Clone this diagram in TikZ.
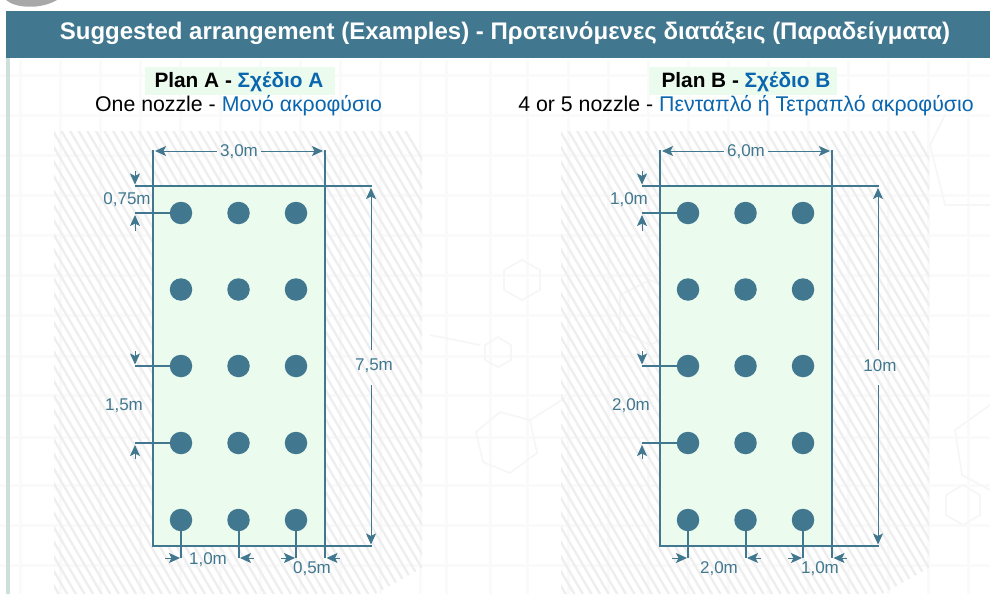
\documentclass[tikz,border=0pt]{standalone}
\usepackage{fontspec}
\setmainfont{Liberation Sans}
\usetikzlibrary{arrows.meta}
\definecolor{teal1}{HTML}{41788F}
\definecolor{blue1}{HTML}{0A66AE}
\definecolor{mint}{HTML}{EBFBEE}
\definecolor{hatchc}{HTML}{EEEEEE}
\definecolor{faint}{HTML}{FAFAFB}
\definecolor{faintb}{HTML}{F6F6F7}
\definecolor{stripe}{HTML}{CFE0DC}
\definecolor{blob}{HTML}{A8A8A8}
\tikzset{
  x=1pt,y=-1pt,
  dot/.style={circle,fill=teal1,draw=none,minimum size=22.5pt,inner sep=0pt},
  edge/.style={draw=teal1,line width=2pt},
  arr/.style={draw=teal1,line width=1pt,-{Stealth[length=11pt,width=10pt,inset=2.5pt]}},
  dimlabel/.style={text=teal1,font=\fontsize{17}{19}\selectfont,inner sep=0pt},
  bgline/.style={draw=faint,line width=3pt},
  bgshape/.style={draw=faintb,line width=1.6pt},
  titlebox/.style={fill=teal1,draw=none,inner sep=0pt,minimum width=984pt,minimum height=47pt},
  headbox/.style={fill=mint,draw=none,inner sep=0pt,minimum height=28pt},
  head/.style={font=\fontsize{20.8}{23}\selectfont\bfseries,inner sep=0pt},
  sub/.style={font=\fontsize{21.3}{23}\selectfont,inner sep=0pt}
}
\begin{document}
\begin{tikzpicture}
\useasboundingbox (0,0) rectangle (990,594);
\fill[white] (0,0) rectangle (990,594);
% faint background
\foreach \xx in {446,490,527,568,608,648,688,728,768,808,848,888,928,968,20,60,100,140,180,220,260,300,340,380,420}{
  \draw[bgline] (\xx,60) -- (\xx,594);
}
\foreach \yy in {75,115,155,195,235,275,315,356,395,437,485,525,565}{
  \draw[bgline] (0,\yy) -- (990,\yy);
}
\draw[bgshape] (522,260) -- (540,270) -- (540,290) -- (522,300) -- (504,290) -- (504,270) -- cycle;
\draw[bgshape] (498,337) -- (511,345) -- (511,360) -- (498,367) -- (485,360) -- (485,345) -- cycle;
\draw[bgshape] (500,412) -- (530,420) -- (537,453) -- (510,473) -- (483,462) -- (476,432) -- cycle;
\draw[bgshape] (530,420) -- (565,398);
\draw[bgshape] (430,335) -- (480,345);
\draw[bgshape] (650,280) -- (680,295) -- (680,330) -- (650,345) -- (620,330) -- (620,295) -- cycle;
\draw[bgshape] (945,115) -- (930,145) -- (945,205) -- (990,205);
\draw[bgshape] (990,405) -- (955,430) -- (962,475) -- (990,490);
\draw[bgshape] (963,485) -- (980,495) -- (980,515) -- (963,525) -- (946,515) -- (946,495) -- cycle;
% left stripe and top-left blob
\fill[stripe] (6,58) rectangle (10,594);
\fill[blob] (6,0) .. controls (15,8) and (40,10) .. (57,0) -- cycle;
\node[titlebox,anchor=north west] (title) at (6,11) {};
\node[text=white,inner sep=0pt,font=\fontsize{24}{26}\selectfont\bfseries] (titletext) at (505,33) {Suggested arrangement (Examples) - Προτεινόμενες διατάξεις (Παραδείγματα)};
% headers
\node[headbox,minimum width=190pt] (hA) at (240,81) {};
\node[head] (hAt) at (239,82) {Plan A - \textcolor{blue1}{Σχέδιο A}};
\node[sub] (sA) at (238.5,106) {One nozzle - \textcolor{blue1}{Μονό ακροφύσιο}};
\node[headbox,minimum width=188pt] (hB) at (743,81) {};
\node[head] (hBt) at (746,82) {Plan B - \textcolor{blue1}{Σχέδιο B}};
\node[sub] (sB) at (746,106) {4 or 5 nozzle - \textcolor{blue1}{Πενταπλό ή Τετραπλό ακροφύσιο}};

\foreach \p/\off/\wl/\tl/\tlx/\ll/\llx/\hl/\hlx/\bl/\blx/\cl/\clx in {
  A/0/{3,0m}/{0,75m}/127/{1,5m}/124/{7,5m}/374/{1,0m}/208/{0,5m}/312,
  B/507/{6,0m}/{1,0m}/122/{2,0m}/124/{10m}/373/{2,0m}/212/{1,0m}/313}{
 \begin{scope}[xshift=\off pt]
  \begin{scope}
   \clip (54,131) -- (422,131) -- (422,568) -- (375,594) -- (54,594) -- cycle;
   \foreach \i in {-30,...,70} {
     \draw[hatchc,line width=2.3pt] (\i*8.6-200,125) -- ++(280,476);
   }
  \end{scope}
  \node[fill=mint,draw=none,minimum width=172pt,minimum height=360pt,inner sep=0pt,anchor=north west] (r\p) at (153,186) {};
  \foreach \c/\xx in {1/181,2/238.5,3/296}{
   \foreach \r/\yy in {1/213,2/289.5,3/366,4/443,5/520}{
     \node[dot] (d\p\c\r) at (\xx,\yy) {};
   }
  }
  \coordinate (tl\p) at (153,150); \coordinate (tr\p) at (325,150);
  \coordinate (bl\p) at (153,546); \coordinate (brb\p) at (325,558);
  \coordinate (hl\p) at (135,186); \coordinate (hr\p) at (372,186);
  \coordinate (ber\p) at (372,546);
  \draw[edge] (tl\p) -- (bl\p) -- (ber\p);
  \draw[edge] (tr\p) -- (brb\p);
  \draw[edge] (hl\p) -- (hr\p);
  \foreach \r/\yy in {1/213,3/366,4/443}{
    \coordinate (lead\p\r) at (135,\yy);
    \draw[edge] (lead\p\r) -- (d\p1\r);
  }
  \foreach \c/\xx in {1/181,2/238.5,3/296}{
    \coordinate (tick\p\c) at (\xx,558);
    \draw[edge] (d\p\c5) -- (tick\p\c);
  }
  % width
  \node[dimlabel] (wl\p) at (239,151.5) {\wl};
  \coordinate (wa\p) at (155,151); \coordinate (wb\p) at (323,151);
  \draw[arr] (wl\p.west |- wa\p) ++(-3,0) -- (wa\p);
  \draw[arr] (wl\p.east |- wb\p) ++(3,0) -- (wb\p);
  % height
  \node[dimlabel] (hh\p) at (\hlx,366) {\hl};
  \coordinate (ha\p) at (371,188); \coordinate (hb\p) at (371,544.5);
  \draw[arr] (371,350) -- (ha\p);
  \draw[arr] (371,385) -- (hb\p);
  % top-left dim
  \node[dimlabel] (tll\p) at (\tlx,199.5) {\tl};
  \coordinate (t1s\p) at (135,171); \coordinate (t1e\p) at (135,184.5);
  \coordinate (t2s\p) at (135,231); \coordinate (t2e\p) at (135,215);
  \draw[arr] (t1s\p) -- (t1e\p);
  \draw[arr] (t2s\p) -- (t2e\p);
  % left dim
  \node[dimlabel] (ll\p) at (\llx,406) {\ll};
  \coordinate (l1s\p) at (135,351); \coordinate (l1e\p) at (135,364.5);
  \coordinate (l2s\p) at (135,459); \coordinate (l2e\p) at (135,445);
  \draw[arr] (l1s\p) -- (l1e\p);
  \draw[arr] (l2s\p) -- (l2e\p);
  % bottom dims
  \node[dimlabel] (bl\p l) at (\blx,\ifnum\off=0 560\else 569\fi) {\bl};
  \node[dimlabel] (cl\p l) at (\clx,569) {\cl};
  \coordinate (b1s\p) at (165,558); \coordinate (b1e\p) at (180,558);
  \coordinate (b2s\p) at (254,558); \coordinate (b2e\p) at (240,558);
  \coordinate (b3s\p) at (281,558); \coordinate (b3e\p) at (295,558);
  \coordinate (b4s\p) at (340,558); \coordinate (b4e\p) at (326.5,558);
  \draw[arr] (b1s\p) -- (b1e\p);
  \draw[arr] (b2s\p) -- (b2e\p);
  \draw[arr] (b3s\p) -- (b3e\p);
  \draw[arr] (b4s\p) -- (b4e\p);
 \end{scope}
}
\end{tikzpicture}
\end{document}
